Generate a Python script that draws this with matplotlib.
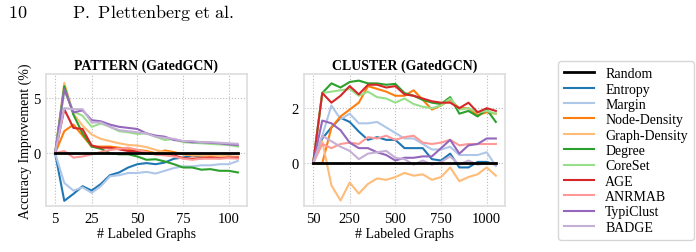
import matplotlib
matplotlib.use("Agg")
import matplotlib.pyplot as plt

plt.rcParams['font.family'] = ['Liberation Serif', 'DejaVu Serif']
plt.rcParams['font.size'] = 9.5

methods = ['Random', 'Entropy', 'Margin', 'Node-Density', 'Graph-Density', 'Degree',
           'CoreSet', 'AGE', 'ANRMAB', 'TypiClust', 'BADGE']
colors = ['black', '#1f77b4', '#aec7e8', '#ff7f0e', '#ffbb78', '#2ca02c',
          '#98df8a', '#d62728', '#ff9896', '#9467bd', '#c5b0d5']

# PATTERN (GatedGCN)
pattern_x = [5, 10, 15, 20, 25, 30, 35, 40, 45, 50, 55, 60, 65, 70, 75, 80, 85, 90, 95, 100, 105]
pattern = {
    'Random': [0] * 21,
    'Entropy': [0, -4.33, -3.7, -3.0, -3.4, -2.8, -2.0, -1.75, -1.3, -1.0, -0.9, -1.0, -0.85,
                -0.5, -0.4, -0.2, -0.3, -0.3, -0.4, -0.3, -0.4],
    'Margin': [0, -2.7, -3.4, -3.1, -3.6, -3.0, -2.1, -2.0, -1.8, -1.8, -1.7, -1.85, -1.6,
               -1.35, -1.2, -1.2, -1.1, -1.1, -1.0, -1.0, -0.7],
    'Node-Density': [0, 2.0, 2.6, 1.6, 0.6, 0.6, 0.6, 0.5, 0.4, 0.3, 0.2, 0.0, 0.25, 0.1,
                     -0.1, -0.2, -0.2, -0.3, -0.3, -0.3, -0.4],
    'Graph-Density': [0, 6.4, 3.6, 2.5, 1.7, 1.3, 1.1, 0.9, 0.75, 0.7, 0.55, 0.3, 0.1, 0.0,
                      -0.1, -0.15, -0.2, -0.2, -0.25, -0.3, -0.3],
    'Degree': [0, 6.1, 3.5, 1.8, 0.6, 0.4, 0.0, -0.1, -0.1, -0.3, -0.6, -0.55, -0.75, -1.0,
               -1.3, -1.3, -1.5, -1.45, -1.6, -1.6, -1.75],
    'CoreSet': [0, 5.7, 3.8, 3.4, 2.4, 2.7, 2.4, 2.0, 1.9, 1.75, 1.8, 1.5, 1.2, 1.3, 1.0,
                0.95, 0.9, 0.85, 0.8, 0.75, 0.6],
    'AGE': [0, 4.0, 2.3, 2.2, 0.7, 0.5, 0.5, 0.35, 0.2, 0.2, 0.0, -0.1, -0.1, -0.2, -0.45,
            -0.5, -0.45, -0.4, -0.45, -0.4, -0.4],
    'ANRMAB': [0, 0.2, -0.4, -0.3, -0.1, 0.1, 0.3, 0.4, 0.5, 0.3, 0.1, -0.1, -0.2, -0.3,
               -0.5, -0.6, -0.5, -0.5, -0.5, -0.45, -0.5],
    'TypiClust': [0, 5.8, 3.7, 3.9, 3.0, 2.9, 2.6, 2.4, 2.3, 2.2, 1.8, 1.6, 1.5, 1.2, 1.1,
                  1.0, 1.0, 0.95, 0.9, 0.8, 0.75],
    'BADGE': [0, 4.1, 4.0, 4.0, 2.8, 2.8, 2.4, 2.1, 2.0, 1.9, 1.8, 1.5, 1.4, 1.3, 1.1, 1.1,
              1.0, 1.0, 0.95, 0.9, 0.85],
}

# CLUSTER (GatedGCN)
cluster_x = [50, 100, 150, 200, 250, 300, 350, 400, 450, 500, 550, 600, 650, 700, 750,
             800, 850, 900, 950, 1000, 1050]
cluster = {
    'Random': [0] * 21,
    'Entropy': [0, 0.9, 1.3, 1.65, 1.5, 1.15, 0.85, 0.95, 0.85, 0.85, 0.55, 0.55, 0.55,
                0.15, 0.1, 0.35, -0.15, -0.15, 0.05, 0.05, -0.05],
    'Margin': [0, 1.0, 2.1, 1.6, 1.8, 1.45, 1.45, 1.5, 1.3, 1.1, 0.9, 0.9, 0.7, 0.5, 0.5,
               0.6, 0.3, 0.3, 0.3, 0.4, -0.1],
    'Node-Density': [0, 0.0, 1.3, 1.7, 1.95, 2.2, 2.8, 2.7, 2.6, 2.45, 2.45, 2.65, 2.3,
                     1.95, 2.1, 2.3, 2.0, 2.0, 1.75, 1.85, 1.8],
    'Graph-Density': [0, 0.8, -0.8, -1.35, -0.7, -1.1, -0.75, -0.55, -0.6, -0.5, -0.35,
                      -0.45, -0.4, -0.6, -0.5, -0.15, -0.65, -0.5, -0.4, -0.15, -0.45],
    'Degree': [0, 2.55, 2.9, 2.75, 2.95, 3.0, 2.9, 2.9, 2.85, 2.88, 2.55, 2.45, 2.3, 2.2,
               2.15, 2.4, 1.8, 1.9, 1.7, 1.95, 1.5],
    'CoreSet': [0, 2.55, 2.6, 2.65, 2.7, 2.45, 2.6, 2.4, 2.35, 2.2, 2.35, 2.15, 2.05, 2.0,
                2.1, 2.35, 1.95, 2.0, 1.85, 1.9, 1.8],
    'AGE': [0, 2.55, 2.2, 2.45, 2.8, 2.5, 2.85, 2.85, 2.75, 2.8, 2.5, 2.45, 2.35, 2.25,
            2.2, 2.2, 2.0, 2.2, 1.85, 2.0, 1.9],
    'ANRMAB': [0, 0.7, 0.55, 0.7, 0.75, 0.7, 0.95, 0.9, 1.0, 0.85, 0.95, 1.0, 0.75, 0.7,
               0.75, 0.85, 0.65, 0.7, 0.7, 0.7, 0.7],
    'TypiClust': [0, 1.55, 1.45, 1.2, 0.75, 0.55, 0.55, 0.4, 0.3, 0.1, 0.2, 0.2, 0.25,
                  0.25, 0.55, 0.85, 0.35, 0.65, 0.7, 0.9, 0.9],
    'BADGE': [0, 1.0, 0.8, 0.6, 0.45, 0.15, 0.35, 0.4, 0.45, 0.2, 0.15, -0.05, 0.1, -0.05,
              0.05, 0.25, -0.05, 0.1, -0.05, 0.0, -0.05],
}

fig = plt.figure(figsize=(6.96, 2.53), dpi=100)
ax1 = fig.add_axes([46 / 696, 46 / 253, 201 / 696, 132 / 253])
ax2 = fig.add_axes([304 / 696, 46 / 253, 201 / 696, 132 / 253])


def draw(ax, xs, data, title, xticks, yticks, ylim):
    for name, col in zip(methods, colors):
        lw = 2.0 if name == 'Random' else 1.5
        ax.plot(xs, data[name], color=col, lw=lw, label=name, zorder=3 if name == 'Random' else 2)
    ax.set_title(title, fontweight='bold', fontsize=10, pad=4)
    ax.set_xticks(xticks)
    ax.set_yticks(yticks)
    ax.set_ylim(*ylim)
    ax.set_xlabel('# Labeled Graphs', fontsize=10, labelpad=2)
    ax.grid(True, color='#bbbbbb', linestyle=':', linewidth=0.8)
    ax.tick_params(length=0, pad=4, labelsize=10.5)
    for s in ax.spines.values():
        s.set_color('#dddddd')
        s.set_linewidth(1.2)


draw(ax1, pattern_x, pattern, 'PATTERN (GatedGCN)', [5, 25, 50, 75, 100], [0, 5], (-4.8, 7.2))
ax1.set_ylabel('Accuracy Improvement (%)', fontsize=10, labelpad=1)
draw(ax2, cluster_x, cluster, 'CLUSTER (GatedGCN)', [50, 250, 500, 750, 1000], [0, 2], (-1.55, 3.24))

handles, labels = ax1.get_legend_handles_labels()
leg = fig.legend(handles, labels, loc='upper left', bbox_to_anchor=(551 / 696, 1 - 55 / 253),
                 fontsize=10, handlelength=2.15, handletextpad=0.8, labelspacing=0.17,
                 borderpad=0.45, frameon=True, fancybox=True)
leg.get_frame().set_edgecolor('#cccccc')

fig.text(8 / 696, 1 - 13 / 253, r'$\mathrm{10}$', fontsize=13, va='center', math_fontfamily='cm')
fig.text(72 / 696, 1 - 13 / 253, r'$\mathrm{P.\ Plettenberg\ et\ al.}$', fontsize=13,
         va='center', math_fontfamily='cm')

fig.savefig('out.png', dpi=100)
